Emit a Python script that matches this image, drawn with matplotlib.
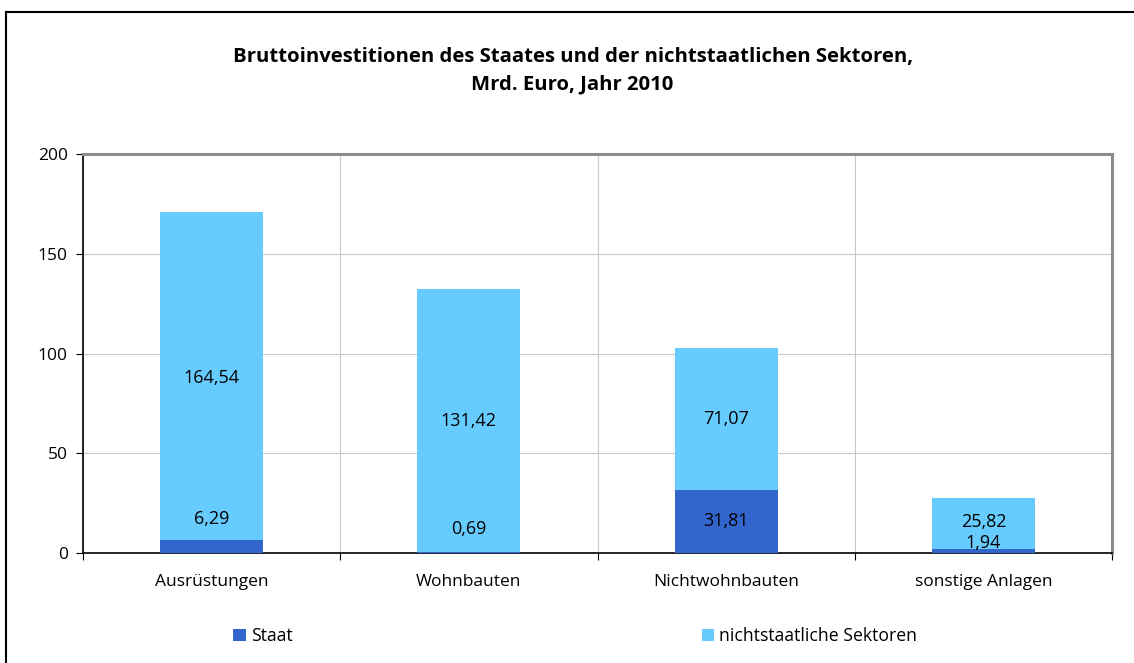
import numpy as np
import matplotlib.pyplot as plt
from matplotlib.lines import Line2D
from matplotlib.patches import Patch

categories = ["Ausrüstungen", "Wohnbauten", "Nichtwohnbauten", "sonstige Anlagen"]
staat = [6.29, 0.69, 31.81, 1.94]
nichtstaatlich = [164.54, 131.42, 71.07, 25.82]
staat_labels = ["6,29", "0,69", "31,81", "1,94"]
nicht_labels = ["164,54", "131,42", "71,07", "25,82"]

dark = "#3366CC"
light = "#66CCFF"

plt.rcParams['font.family'] = ['Open Sans', 'DejaVu Sans']

fig = plt.figure(figsize=(11.34, 6.63), dpi=100)
ax = fig.add_axes([0.0732, 0.1659, 0.9074, 0.6018])

x = np.arange(len(categories))
ax.bar(x, staat, width=0.4, color=dark, zorder=3)
ax.bar(x, nichtstaatlich, width=0.4, bottom=staat, color=light, zorder=3)

ax.set_xlim(-0.5, len(categories) - 0.5)
ax.set_ylim(0, 200)
ax.set_yticks([0, 50, 100, 150, 200])
ax.set_yticklabels(["0", "50", "100", "150", "200"], fontsize=12.5)

# category boundaries carry the ticks and vertical grid
bounds = np.arange(len(categories) + 1) - 0.5
ax.set_xticks(bounds)
ax.set_xticklabels([""] * len(bounds))
ax.set_xticks(x, minor=True)
ax.set_xticklabels(categories, minor=True, fontsize=12.5)
ax.tick_params(axis='x', which='minor', length=0, pad=15)
ax.tick_params(axis='x', which='major', length=5, direction='out', color='black')
ax.tick_params(axis='y', length=5, direction='out', pad=6)

ax.grid(True, which='major', color='#c8c8c8', linewidth=0.8, zorder=0)

for s in ['left', 'bottom']:
    ax.spines[s].set_color('black')
    ax.spines[s].set_linewidth(1.2)
for s in ['top', 'right']:
    ax.spines[s].set_color('#8c8c8c')
    ax.spines[s].set_linewidth(2.2)

# data labels (Excel-like placement, small segments nudged upward)
dark_offsets = [20, 17, 0, 5.5]
light_offsets = [-1, 0, 0, 1]
for i in range(len(categories)):
    yc = staat[i] / 2
    ax.annotate(staat_labels[i], (x[i], yc), xytext=(0, dark_offsets[i]),
                textcoords='offset points', ha='center', va='center',
                fontsize=13, zorder=4)
    yc2 = staat[i] + nichtstaatlich[i] / 2
    ax.annotate(nicht_labels[i], (x[i], yc2), xytext=(0, light_offsets[i]),
                textcoords='offset points', ha='center', va='center',
                fontsize=13, zorder=4)

fig.text(0.505, 0.914, "Bruttoinvestitionen des Staates und der nichtstaatlichen Sektoren,",
         ha='center', va='center', fontsize=14.6, fontweight='bold')
fig.text(0.505, 0.872, "Mrd. Euro, Jahr 2010",
         ha='center', va='center', fontsize=14.6, fontweight='bold')

# legend entries
h1 = [Patch(facecolor=dark, edgecolor='none')]
h2 = [Patch(facecolor=light, edgecolor='none')]
fig.legend(h1, ["Staat"], loc='center left', bbox_to_anchor=(0.198, 0.04),
           frameon=False, fontsize=12.7, handlelength=0.7, handleheight=0.7,
           handletextpad=0.3, borderpad=0)
fig.legend(h2, ["nichtstaatliche Sektoren"], loc='center left',
           bbox_to_anchor=(0.611, 0.04), frameon=False, fontsize=12.7,
           handlelength=0.7, handleheight=0.7, handletextpad=0.3, borderpad=0)

# outer chart frame (top and left visible)
fig.add_artist(Line2D([6 / 1134, 6 / 1134], [0, 1 - 12 / 663], transform=fig.transFigure,
                      color='black', linewidth=1.5))
fig.add_artist(Line2D([6 / 1134, 1], [1 - 12 / 663, 1 - 12 / 663], transform=fig.transFigure,
                      color='black', linewidth=1.5))

fig.savefig("out.png", dpi=100)
